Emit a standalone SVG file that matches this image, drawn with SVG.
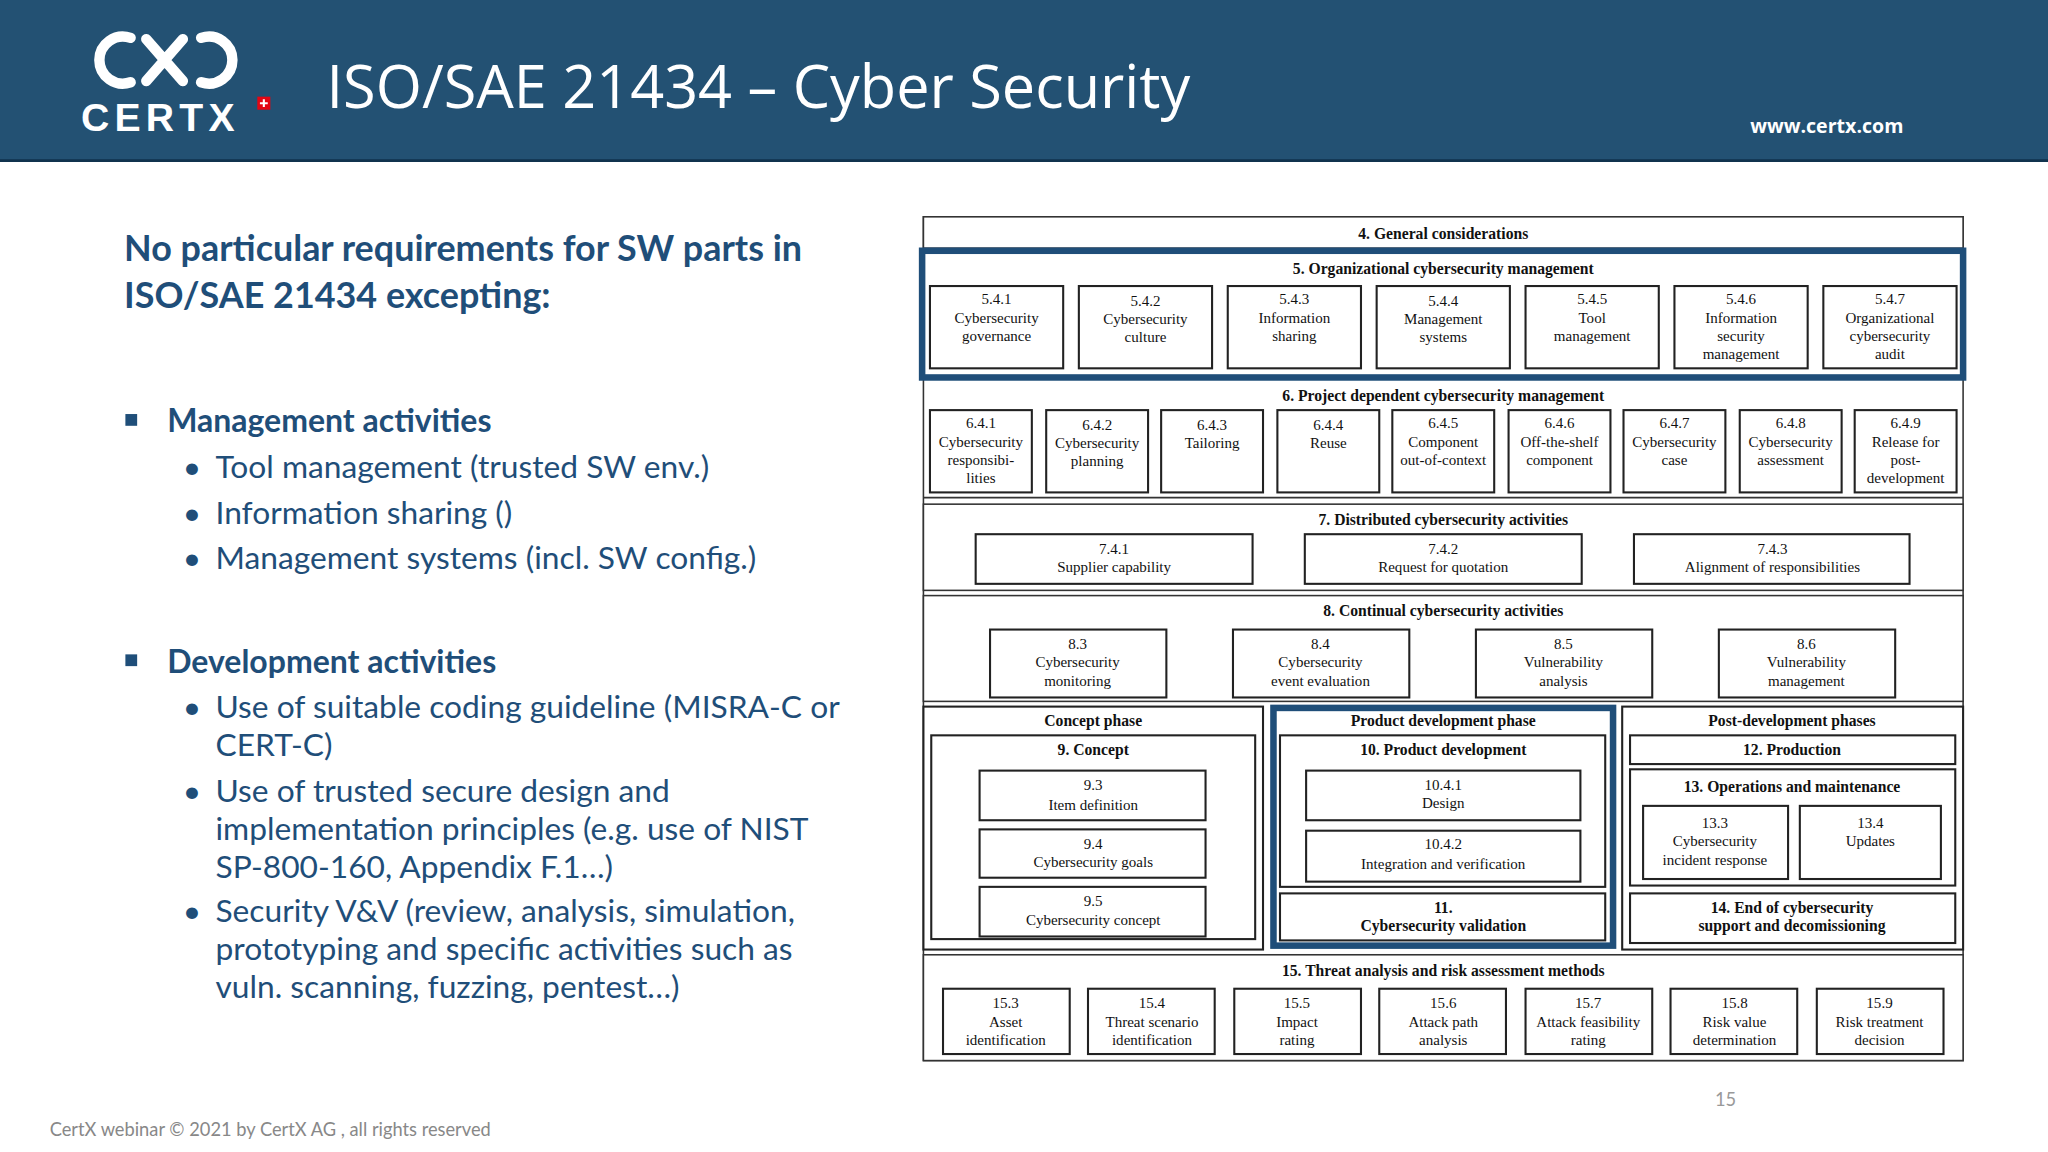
<svg xmlns="http://www.w3.org/2000/svg" width="2048" height="1152" viewBox="0 0 2048 1152">
<style>
.b{fill:#fff;stroke:#333;stroke-width:1.2}
.s{fill:#fff;stroke:#222;stroke-width:1.6}
.th{fill:none;stroke:#1f4e79;stroke-width:5}
text.d{font-family:"Liberation Serif",serif;font-size:11.5px;fill:#111;text-anchor:middle}
text.h{font-family:"Liberation Serif",serif;font-size:12px;font-weight:bold;fill:#111;text-anchor:middle}
.l{font-family:Lato,"Open Sans",sans-serif;fill:#1f4e79}
</style>
<rect width="2048" height="1152" fill="#fff"/>
<g transform="scale(1.30612)">
<g id="header">
<rect x="0" y="0" width="1568" height="123" fill="#235173"/>
<line x1="0" y1="123" x2="1568" y2="123" stroke="#10324d" stroke-width="2"/>
<g fill="none" stroke="#fff" stroke-width="8" stroke-linecap="round">
<path d="M100 29 A18 18 0 1 0 100 63"/>
<path d="M112 30 L140 62 M140 30 L112 62"/>
<path d="M154 29 A18 18 0 1 1 154 63"/>
</g>
<text x="62" y="100" font-family="'Liberation Sans',sans-serif" font-size="30" font-weight="bold" fill="#fff" letter-spacing="4">CERTX</text>
<rect x="197" y="74" width="10" height="10" fill="#e30613"/>
<path d="M202 76v6M199 79h6" stroke="#fff" stroke-width="1.6"/>
<text x="250" y="83" font-family="'Open Sans',sans-serif" font-size="45.5" fill="#fff">ISO/SAE 21434 – Cyber Security</text>
<text x="1340" y="102" font-family="'Open Sans',sans-serif" font-size="15" font-weight="bold" fill="#fff">www.certx.com</text>
</g>
<g id="left-text">
<text class="l" x="95" y="200" font-size="27.5" font-weight="bold">No particular requirements for SW parts in</text>
<text class="l" x="95" y="236" font-size="27.5" font-weight="bold">ISO/SAE 21434 excepting:</text>
<rect x="96" y="317" width="9" height="9" fill="#1f4e79"/>
<text class="l" x="128" y="331" font-size="24.5" font-weight="bold">Management activities</text>
<g font-size="24.3">
<text class="l" x="140" y="366">•</text><text class="l" x="165" y="366">Tool management (trusted SW env.)</text>
<text class="l" x="140" y="401">•</text><text class="l" x="165" y="401">Information sharing ()</text>
<text class="l" x="140" y="436">•</text><text class="l" x="165" y="436">Management systems (incl. SW config.)</text>
</g>
<rect x="96" y="501" width="9" height="9" fill="#1f4e79"/>
<text class="l" x="128" y="515" font-size="24.5" font-weight="bold">Development activities</text>
<g font-size="24.3">
<text class="l" x="140" y="550">•</text><text class="l" x="165" y="550">Use of suitable coding guideline (MISRA-C or</text>
<text class="l" x="165" y="579">CERT-C)</text>
<text class="l" x="140" y="614">•</text><text class="l" x="165" y="614">Use of trusted secure design and</text>
<text class="l" x="165" y="643">implementation principles (e.g. use of NIST</text>
<text class="l" x="165" y="672">SP-800-160, Appendix F.1…)</text>
<text class="l" x="140" y="706">•</text><text class="l" x="165" y="706">Security V&amp;V (review, analysis, simulation,</text>
<text class="l" x="165" y="735">prototyping and specific activities such as</text>
<text class="l" x="165" y="764">vuln. scanning, fuzzing, pentest…)</text>
</g>
<text x="38" y="870" font-family="Lato,sans-serif" font-size="14" fill="#888">CertX webinar © 2021 by CertX AG ,  all rights reserved</text>
<text x="1313" y="847" font-family="Lato,sans-serif" font-size="14" fill="#999">15</text>
</g>
<g id="diagram">
<rect class="b" x="707" y="166" width="796" height="646"/>
<g id="s4"><rect class="b" x="707" y="166" width="796" height="24"/><text class="h" x="1105" y="183">4. General considerations</text></g>
<g id="s5">
<rect x="707" y="191" width="796" height="99" fill="#fff"/>
<text class="h" x="1105" y="210">5. Organizational cybersecurity management</text>
<rect class="s" x="712" y="219" width="102" height="63"/><text class="d" x="763" y="233">5.4.1</text><text class="d" x="763" y="247">Cybersecurity</text><text class="d" x="763" y="261">governance</text>
<rect class="s" x="826" y="219" width="102" height="63"/><text class="d" x="877" y="234">5.4.2</text><text class="d" x="877" y="248">Cybersecurity</text><text class="d" x="877" y="262">culture</text>
<rect class="s" x="940" y="219" width="102" height="63"/><text class="d" x="991" y="233">5.4.3</text><text class="d" x="991" y="247">Information</text><text class="d" x="991" y="261">sharing</text>
<rect class="s" x="1054" y="219" width="102" height="63"/><text class="d" x="1105" y="234">5.4.4</text><text class="d" x="1105" y="248">Management</text><text class="d" x="1105" y="262">systems</text>
<rect class="s" x="1168" y="219" width="102" height="63"/><text class="d" x="1219" y="233">5.4.5</text><text class="d" x="1219" y="247">Tool</text><text class="d" x="1219" y="261">management</text>
<rect class="s" x="1282" y="219" width="102" height="63"/><text class="d" x="1333" y="233">5.4.6</text><text class="d" x="1333" y="247">Information</text><text class="d" x="1333" y="261">security</text><text class="d" x="1333" y="275">management</text>
<rect class="s" x="1396" y="219" width="102" height="63"/><text class="d" x="1447" y="233">5.4.7</text><text class="d" x="1447" y="247">Organizational</text><text class="d" x="1447" y="261">cybersecurity</text><text class="d" x="1447" y="275">audit</text>
<rect class="th" x="706" y="192" width="797" height="97"/>
</g>
<g id="s6">
<text class="h" x="1105" y="307">6. Project dependent cybersecurity management</text>
<rect class="s" x="712" y="314" width="78" height="63"/><text class="d" x="751" y="328">6.4.1</text><text class="d" x="751" y="342">Cybersecurity</text><text class="d" x="751" y="356">responsibi-</text><text class="d" x="751" y="370">lities</text>
<rect class="s" x="801" y="314" width="78" height="63"/><text class="d" x="840" y="329">6.4.2</text><text class="d" x="840" y="343">Cybersecurity</text><text class="d" x="840" y="357">planning</text>
<rect class="s" x="889" y="314" width="78" height="63"/><text class="d" x="928" y="329">6.4.3</text><text class="d" x="928" y="343">Tailoring</text>
<rect class="s" x="978" y="314" width="78" height="63"/><text class="d" x="1017" y="329">6.4.4</text><text class="d" x="1017" y="343">Reuse</text>
<rect class="s" x="1066" y="314" width="78" height="63"/><text class="d" x="1105" y="328">6.4.5</text><text class="d" x="1105" y="342">Component</text><text class="d" x="1105" y="356">out-of-context</text>
<rect class="s" x="1155" y="314" width="78" height="63"/><text class="d" x="1194" y="328">6.4.6</text><text class="d" x="1194" y="342">Off-the-shelf</text><text class="d" x="1194" y="356">component</text>
<rect class="s" x="1243" y="314" width="78" height="63"/><text class="d" x="1282" y="328">6.4.7</text><text class="d" x="1282" y="342">Cybersecurity</text><text class="d" x="1282" y="356">case</text>
<rect class="s" x="1332" y="314" width="78" height="63"/><text class="d" x="1371" y="328">6.4.8</text><text class="d" x="1371" y="342">Cybersecurity</text><text class="d" x="1371" y="356">assessment</text>
<rect class="s" x="1420" y="314" width="78" height="63"/><text class="d" x="1459" y="328">6.4.9</text><text class="d" x="1459" y="342">Release for</text><text class="d" x="1459" y="356">post-</text><text class="d" x="1459" y="370">development</text>
<line x1="707" y1="381" x2="1503" y2="381" stroke="#333" stroke-width="1.2"/>
</g>
<g id="s7">
<rect class="b" x="707" y="386" width="796" height="66"/>
<text class="h" x="1105" y="402">7. Distributed cybersecurity activities</text>
<rect class="s" x="747" y="409" width="212" height="38"/><text class="d" x="853" y="424">7.4.1</text><text class="d" x="853" y="438">Supplier capability</text>
<rect class="s" x="999" y="409" width="212" height="38"/><text class="d" x="1105" y="424">7.4.2</text><text class="d" x="1105" y="438">Request for quotation</text>
<rect class="s" x="1251" y="409" width="211" height="38"/><text class="d" x="1357" y="424">7.4.3</text><text class="d" x="1357" y="438">Alignment of responsibilities</text>
</g>
<g id="s8">
<rect class="b" x="707" y="456" width="796" height="81"/>
<text class="h" x="1105" y="472">8. Continual cybersecurity activities</text>
<rect class="s" x="758" y="482" width="135" height="52"/><text class="d" x="825" y="497">8.3</text><text class="d" x="825" y="511">Cybersecurity</text><text class="d" x="825" y="525">monitoring</text>
<rect class="s" x="944" y="482" width="135" height="52"/><text class="d" x="1011" y="497">8.4</text><text class="d" x="1011" y="511">Cybersecurity</text><text class="d" x="1011" y="525">event evaluation</text>
<rect class="s" x="1130" y="482" width="135" height="52"/><text class="d" x="1197" y="497">8.5</text><text class="d" x="1197" y="511">Vulnerability</text><text class="d" x="1197" y="525">analysis</text>
<rect class="s" x="1316" y="482" width="135" height="52"/><text class="d" x="1383" y="497">8.6</text><text class="d" x="1383" y="511">Vulnerability</text><text class="d" x="1383" y="525">management</text>
</g>
<g id="concept">
<rect class="s" x="707" y="541" width="260" height="186" stroke-width="2.2"/>
<text class="h" x="837" y="556">Concept phase</text>
<rect class="s" x="713" y="563" width="248" height="156"/>
<text class="h" x="837" y="578">9. Concept</text>
<rect class="s" x="750" y="590" width="173" height="38"/><text class="d" x="837" y="605">9.3</text><text class="d" x="837" y="620">Item definition</text>
<rect class="s" x="750" y="635" width="173" height="37"/><text class="d" x="837" y="650">9.4</text><text class="d" x="837" y="664">Cybersecurity goals</text>
<rect class="s" x="750" y="679" width="173" height="38"/><text class="d" x="837" y="694">9.5</text><text class="d" x="837" y="708">Cybersecurity concept</text>
</g>
<g id="product">
<rect x="974" y="541" width="262" height="184" fill="#fff"/>
<text class="h" x="1105" y="556">Product development phase</text>
<rect class="s" x="980" y="563" width="249" height="116"/>
<text class="h" x="1105" y="578">10. Product development</text>
<rect class="s" x="1000" y="590" width="210" height="38"/><text class="d" x="1105" y="605">10.4.1</text><text class="d" x="1105" y="619">Design</text>
<rect class="s" x="1000" y="636" width="210" height="39"/><text class="d" x="1105" y="650">10.4.2</text><text class="d" x="1105" y="665">Integration and verification</text>
<rect class="s" x="980" y="684" width="249" height="36"/><text class="h" x="1105" y="699">11.</text><text class="h" x="1105" y="713">Cybersecurity validation</text>
<rect class="th" x="975" y="542" width="260" height="182"/>
</g>
<g id="post">
<rect class="s" x="1242" y="541" width="261" height="186" stroke-width="2.2"/>
<text class="h" x="1372" y="556">Post-development phases</text>
<rect class="s" x="1248" y="563" width="249" height="22"/><text class="h" x="1372" y="578">12. Production</text>
<rect class="s" x="1248" y="589" width="249" height="89"/><text class="h" x="1372" y="606">13. Operations and maintenance</text>
<rect class="s" x="1258" y="617" width="111" height="56"/><text class="d" x="1313" y="634">13.3</text><text class="d" x="1313" y="648">Cybersecurity</text><text class="d" x="1313" y="662">incident response</text>
<rect class="s" x="1378" y="617" width="108" height="56"/><text class="d" x="1432" y="634">13.4</text><text class="d" x="1432" y="648">Updates</text>
<rect class="s" x="1248" y="684" width="249" height="38"/><text class="h" x="1372" y="699">14. End of cybersecurity</text><text class="h" x="1372" y="713">support and decomissioning</text>
</g>
<g id="s15">
<rect class="b" x="707" y="731" width="796" height="81"/>
<text class="h" x="1105" y="747">15. Threat analysis and risk assessment methods</text>
<rect class="s" x="722" y="757" width="97" height="50"/><text class="d" x="770" y="772">15.3</text><text class="d" x="770" y="786">Asset</text><text class="d" x="770" y="800">identification</text>
<rect class="s" x="833" y="757" width="97" height="50"/><text class="d" x="882" y="772">15.4</text><text class="d" x="882" y="786">Threat scenario</text><text class="d" x="882" y="800">identification</text>
<rect class="s" x="945" y="757" width="97" height="50"/><text class="d" x="993" y="772">15.5</text><text class="d" x="993" y="786">Impact</text><text class="d" x="993" y="800">rating</text>
<rect class="s" x="1056" y="757" width="97" height="50"/><text class="d" x="1105" y="772">15.6</text><text class="d" x="1105" y="786">Attack path</text><text class="d" x="1105" y="800">analysis</text>
<rect class="s" x="1168" y="757" width="97" height="50"/><text class="d" x="1216" y="772">15.7</text><text class="d" x="1216" y="786">Attack feasibility</text><text class="d" x="1216" y="800">rating</text>
<rect class="s" x="1279" y="757" width="97" height="50"/><text class="d" x="1328" y="772">15.8</text><text class="d" x="1328" y="786">Risk value</text><text class="d" x="1328" y="800">determination</text>
<rect class="s" x="1391" y="757" width="97" height="50"/><text class="d" x="1439" y="772">15.9</text><text class="d" x="1439" y="786">Risk treatment</text><text class="d" x="1439" y="800">decision</text>
</g>
</g>
<g id="connectors"/>
</g>
</svg>
